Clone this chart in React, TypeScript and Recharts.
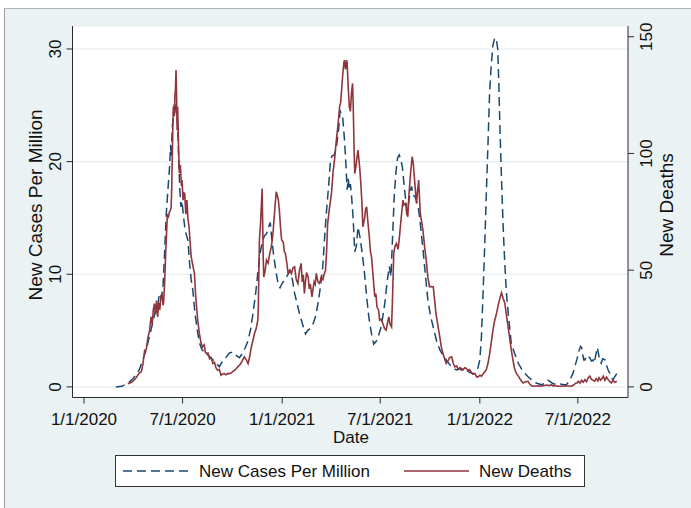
import React from 'react';
import { LineChart, Line, XAxis, YAxis, CartesianGrid, Label } from 'recharts';

const FONT = '"Liberation Sans", Arial, Helvetica, sans-serif';
const NAVY = '#1a476f';
const MAROON = '#90353b';
const BG = '#eaf2f3';
const AXIS = '#2b2b2b';
const FS = 17;
const TFS = 19;

// x positions are days since 1/1/2020
const xTickDays = [0, 182, 366, 547, 731, 912];
const xTickLabels = ['1/1/2020', '7/1/2020', '1/1/2021', '7/1/2021', '1/1/2022', '7/1/2022'];
const leftTicks = [0, 10, 20, 30];
const rightTicks = [0, 50, 100, 150];

const caseDays = [59, 70, 80, 90, 102, 110, 115, 121, 127, 133, 137, 139, 143, 146, 149, 152, 155, 158, 160, 161, 163, 167, 170, 173, 175, 177, 179, 181, 183, 186, 189, 192, 195, 198, 201, 205, 210, 214, 218, 224, 232, 238, 244, 250, 256, 262, 268, 275, 281, 287, 293, 298, 303, 308, 312, 317, 321, 325, 329, 333, 337, 341, 344, 347, 350, 355, 359, 362, 366, 372, 378, 381, 385, 389, 394, 398, 404, 409, 413, 418, 423, 428, 432, 437, 441, 444, 447, 452, 455, 458, 462, 466, 470, 473, 475, 478, 481, 484, 486, 488, 490, 492, 494, 497, 500, 503, 506, 510, 514, 518, 522, 526, 531, 535, 539, 543, 548, 552, 556, 560, 564, 567, 570, 573, 576, 579, 582, 585, 588, 591, 594, 597, 600, 603, 605, 608, 611, 614, 617, 620, 623, 626, 629, 632, 635, 640, 645, 651, 657, 663, 669, 675, 681, 688, 694, 700, 706, 712, 717, 722, 727, 731, 734, 737, 740, 743, 746, 749, 752, 755, 758, 760, 762, 764, 766, 768, 771, 774, 777, 780, 784, 789, 795, 802, 808, 814, 820, 826, 832, 838, 845, 851, 857, 860, 866, 873, 880, 886, 891, 896, 900, 903, 907, 910, 914, 917, 919, 921, 923, 925, 928, 931, 934, 937, 940, 942, 945, 948, 951, 953, 955, 958, 962, 965, 968, 971, 974, 977, 980, 984];
const caseValues = [0, 0.05, 0.3, 0.7, 1.5, 2.6, 3.3, 4.5, 5.7, 7.0, 7.4, 8.3, 7.9, 9.0, 12, 15.4, 17.5, 19.5, 21.5, 20.5, 23, 25.3, 24.5, 23.4, 20, 17.5, 16, 16.5, 15.5, 14.2, 13.5, 13, 11, 9.5, 8.6, 6.5, 4.8, 3.8, 3.3, 3.0, 2.7, 2.4, 2.1, 1.8, 2.3, 2.6, 3.0, 3.1, 2.8, 2.6, 3.0, 3.5, 4.1, 5.2, 6.5, 8.3, 10.1, 11.8, 12.8, 13.4, 13.6, 14.2, 14.6, 13.0, 11.8, 10.1, 9.0, 8.8, 9.2, 9.6, 10.1, 10.3, 9.5, 8.3, 7.3, 6.5, 5.5, 4.7, 5.0, 5.2, 5.6, 6.3, 7.4, 9.0, 10.7, 13, 15.1, 18, 20, 20.5, 20.6, 21.2, 22.8, 24.5, 24.3, 23.8, 22.0, 19.5, 17.5, 18.5, 17.5, 18.0, 17.0, 15.0, 12.0, 12.5, 14.2, 13.2, 11.8, 10.1, 8.0, 6.2, 4.7, 3.8, 4.0, 4.4, 5.2, 6.3, 7.6, 9.4, 10.7, 9.8, 13.5, 17, 19.0, 20.3, 20.6, 20.2, 19.5, 18.0, 16.6, 15.6, 16.5, 17.5, 17.8, 17.0, 16.9, 16.5, 16.0, 15, 13.6, 12.2, 10.7, 9.2, 7.7, 6.3, 5.3, 4.1, 3.3, 2.8, 2.4, 2.0, 1.7, 1.5, 1.6, 1.4, 1.5, 1.3, 1.2, 1.2, 1.6, 2.4, 4.5, 8.4, 12.5, 17.2, 21.5, 26.1, 28.5, 30.3, 30.9, 31.0, 30.7, 30.0, 27, 23.2, 18.5, 14.3, 11, 8.4, 6.2, 3.9, 3.0, 2.1, 1.6, 1.2, 0.9, 0.65, 0.4, 0.3, 0.2, 0.3, 0.6, 0.5, 0.3, 0.2, 0.25, 0.2, 0.2, 0.5, 0.9, 1.2, 1.9, 2.4, 3.2, 3.6, 3.5, 2.9, 2.4, 2.4, 2.8, 2.7, 2.6, 2.3, 2.4, 2.1, 2.8, 3.5, 2.7, 2.3, 2.1, 2.5, 2.4, 1.9, 1.5, 1.2, 0.8, 0.65, 0.9, 1.2];

const deathDays = [81, 88, 95, 102, 106, 109, 112, 115, 118, 121, 124, 126, 128, 130, 132, 134, 136, 138, 140, 142, 144, 146, 147, 149, 151, 152, 154, 156, 158, 160, 161, 162, 164, 165, 167, 168, 169, 170, 171, 172, 173, 175, 176, 178, 180, 181, 183, 185, 186, 188, 190, 192, 194, 196, 198, 201, 204, 206, 208, 210, 213, 216, 219, 222, 224, 226, 229, 232, 235, 238, 241, 244, 247, 250, 253, 256, 259, 262, 266, 269, 272, 276, 280, 284, 288, 292, 296, 300, 303, 306, 309, 312, 315, 318, 321, 322, 323, 324, 326, 328, 329, 330, 331, 332, 334, 337, 340, 343, 346, 349, 351, 353, 355, 357, 359, 361, 363, 365, 368, 370, 372, 374, 377, 380, 383, 386, 389, 392, 395, 398, 401, 403, 405, 407, 409, 411, 414, 416, 418, 421, 423, 425, 427, 429, 432, 435, 438, 441, 444, 446, 448, 450, 453, 457, 460, 463, 466, 469, 472, 474, 476, 478, 480, 481, 483, 485, 486, 488, 490, 492, 494, 496, 497, 499, 500, 502, 504, 506, 509, 511, 513, 515, 518, 520, 522, 524, 527, 529, 531, 534, 537, 539, 541, 544, 546, 549, 552, 555, 558, 561, 563, 565, 568, 570, 572, 574, 577, 580, 582, 584, 586, 589, 591, 594, 596, 598, 600, 603, 606, 608, 610, 611, 614, 616, 618, 621, 624, 626, 629, 632, 635, 638, 641, 645, 648, 650, 653, 656, 660, 663, 666, 669, 672, 675, 679, 682, 685, 688, 691, 694, 697, 700, 703, 706, 709, 712, 715, 718, 722, 725, 728, 731, 734, 737, 740, 743, 746, 749, 752, 755, 758, 762, 765, 768, 771, 774, 777, 780, 783, 786, 789, 792, 795, 798, 802, 805, 808, 811, 815, 820, 823, 826, 829, 835, 840, 845, 850, 855, 860, 863, 866, 870, 875, 882, 888, 894, 900, 904, 908, 911, 913, 916, 919, 922, 925, 928, 931, 934, 937, 940, 943, 946, 949, 951, 954, 957, 959, 962, 965, 968, 971, 974, 977, 980, 984];
const deathValues = [1.4, 2.0, 3.5, 5.9, 6.5, 10, 15.7, 16, 21, 24, 30, 27, 33, 35.7, 31, 37, 30, 36, 33, 38.6, 40, 35, 36, 45, 58, 63, 74, 73, 75, 76, 77, 85, 110, 120, 116, 125, 128, 135.7, 125, 110, 120, 100, 91.6, 95, 86, 88.6, 80, 83, 82.9, 74, 80, 72, 68.6, 62, 55.7, 52, 48.6, 40, 34, 28.6, 23, 19, 17.1, 18, 15, 14.3, 14.5, 12, 12.5, 10, 10.5, 8, 7.1, 7.5, 5, 5.5, 5.7, 5.2, 5.8, 5.7, 6, 6.8, 7.5, 8.6, 9.5, 11, 12.9, 11.5, 10, 13, 17, 20, 23, 25, 28.6, 35, 50, 62.9, 70, 80, 85, 70, 55, 47.1, 49, 54.3, 53, 57.1, 60, 65.7, 72, 78, 83.6, 82, 80, 75, 68, 62.9, 62, 58, 57.1, 54, 48.6, 50, 48.6, 51, 51.4, 46, 44.3, 50, 52.9, 45, 48, 40, 45, 49, 47.1, 42, 44, 38.6, 42, 45, 44, 48.6, 45, 44.3, 47, 46, 48.6, 50, 58, 70, 76, 82.9, 92, 98, 105.7, 112, 120, 122, 128, 134.3, 139, 140, 136, 140, 138.6, 128, 120, 118, 126, 130, 122, 100, 91.4, 94, 98, 101.4, 94.3, 88, 80, 68.6, 72, 76, 77.1, 71.4, 64, 58, 55.7, 47, 38.6, 40, 34.3, 33, 28.6, 29, 27.1, 25, 24.3, 28, 30, 27, 25.7, 40, 57.1, 60, 61.4, 59, 62.9, 68, 72.9, 80, 78, 78.6, 74, 72.9, 82, 91.4, 98.6, 96, 90, 87.1, 78.6, 84, 88.6, 74.3, 70, 67.1, 60, 54.3, 47, 42.9, 43, 42.9, 36, 31.4, 27, 22.9, 17, 14.3, 12, 10, 11, 12.5, 12.9, 10, 8.6, 9, 7.5, 8.2, 7.9, 7.3, 8.2, 7.9, 7.0, 7.4, 6.4, 5.5, 5.7, 4.3, 4.3, 5.0, 4.6, 5.5, 6.5, 7.4, 10, 14, 18.9, 24, 28, 31.7, 35, 38, 40.3, 38, 36, 31, 26, 21, 16, 11.7, 8, 6, 4.6, 3.5, 2.5, 1.7, 2.2, 2.4, 1.2, 0.6, 0.3, 0.4, 0.5, 0.3, 0.6, 0.8, 0.5, 1.0, 0.4, 0.6, 0.3, 0.3, 0.5, 0.4, 0.3, 0.8, 1.6, 1.8, 2.4, 1.6, 2.8, 2.0, 3.1, 2.2, 3.8, 4.6, 3.3, 2.8, 2.4, 3.5, 2.6, 3.9, 2.9, 3.7, 4.6, 2.8, 4.2, 3.1, 2.2, 1.7, 2.9, 2.0, 2.4];

const caseData = caseDays.map((d, i) => ({ day: d, cases: caseValues[i] }));
const deathData = deathDays.map((d, i) => ({ day: d, deaths: deathValues[i] }));

const XTick = (props: any) => {
  const { x, y, payload } = props;
  const idx = xTickDays.indexOf(payload.value);
  return (
    <text x={x} y={y + 19} textAnchor="middle" fontFamily={FONT} fontSize={FS} fill="#111">
      {idx >= 0 ? xTickLabels[idx] : ''}
    </text>
  );
};

const LeftTick = (props: any) => {
  const { x, y, payload } = props;
  const bx = x - 3.5;
  return (
    <text transform={`translate(${bx},${y}) rotate(-90)`} textAnchor="middle" fontFamily={FONT} fontSize={FS} fill="#111">
      {payload.value}
    </text>
  );
};

const RightTick = (props: any) => {
  const { x, y, payload } = props;
  const bx = x + 15.5;
  return (
    <text transform={`translate(${bx},${y}) rotate(-90)`} textAnchor="middle" fontFamily={FONT} fontSize={FS} fill="#111">
      {payload.value}
    </text>
  );
};

export default function App() {
  return (
    <div style={{ position: 'absolute', left: 0, top: 0, width: 691, height: 508, overflow: 'hidden', background: '#fff' }}>
      <div
        style={{
          position: 'absolute',
          left: 4,
          top: 8,
          width: 720,
          height: 540,
          background: BG,
          borderLeft: '1px solid #9c9c9c',
          borderTop: '1px solid #b4b4b4',
        }}
      />
      <div style={{ position: 'absolute', left: 0, top: 0 }}>
        <LineChart width={691} height={508} margin={{ top: 26, right: 10, bottom: 70.5, left: 10 }}>
          <CartesianGrid yAxisId="left" vertical={false} horizontal={true} stroke="#e3ecec" strokeWidth={1.2} fill="#ffffff" fillOpacity={1} />
          <XAxis
            dataKey="day"
            type="number"
            domain={[-21.2, 1004.6]}
            allowDataOverflow
            ticks={xTickDays}
            tick={<XTick />}
            tickSize={6}
            height={40}
            axisLine={{ stroke: AXIS }}
            tickLine={{ stroke: AXIS }}
            interval={0}
          >
            <Label
              content={() => (
                <text x={351} y={443} textAnchor="middle" fontFamily={FONT} fontSize={FS} fill="#111">
                  Date
                </text>
              )}
            />
          </XAxis>
          <YAxis
            yAxisId="left"
            orientation="left"
            width={62.5}
            type="number"
            domain={[-0.94, 32.04]}
            allowDataOverflow
            ticks={leftTicks}
            tick={<LeftTick />}
            tickSize={6}
            axisLine={{ stroke: AXIS }}
            tickLine={{ stroke: AXIS }}
            interval={0}
          >
            <Label
              content={() => (
                <text transform="translate(42,205) rotate(-90)" textAnchor="middle" fontFamily={FONT} fontSize={TFS} fill="#111">
                  New Cases Per Million
                </text>
              )}
            />
          </YAxis>
          <YAxis
            yAxisId="right"
            orientation="right"
            width={53}
            type="number"
            domain={[-4.54, 154.6]}
            allowDataOverflow
            ticks={rightTicks}
            tick={<RightTick />}
            tickSize={6}
            axisLine={{ stroke: AXIS }}
            tickLine={{ stroke: AXIS }}
            interval={0}
          >
            <Label
              content={() => (
                <text transform="translate(672.5,205) rotate(-90)" textAnchor="middle" fontFamily={FONT} fontSize={TFS} fill="#111">
                  New Deaths
                </text>
              )}
            />
          </YAxis>
          <Line
            yAxisId="left"
            data={caseData}
            dataKey="cases"
            type="linear"
            stroke={NAVY}
            strokeWidth={1.5}
            strokeDasharray="9 5"
            dot={false}
            activeDot={false}
            isAnimationActive={false}
          />
          <Line
            yAxisId="right"
            data={deathData}
            dataKey="deaths"
            type="linear"
            stroke={MAROON}
            strokeWidth={1.6}
            dot={false}
            activeDot={false}
            isAnimationActive={false}
          />
        </LineChart>
      </div>
      <div
        style={{
          position: 'absolute',
          left: 115,
          top: 455,
          width: 470,
          height: 32,
          boxSizing: 'border-box',
          background: '#fff',
          border: '1px solid #333',
        }}
      >
        <svg width={468} height={30} style={{ position: 'absolute', left: 0, top: 0 }}>
          <line x1={7} y1={15} x2={73} y2={15} stroke={NAVY} strokeWidth={1.5} strokeDasharray="9 5" />
          <text x={83} y={21} fontFamily={FONT} fontSize={FS} fill="#111">New Cases Per Million</text>
          <line x1={288} y1={15} x2={353} y2={15} stroke={MAROON} strokeWidth={1.6} />
          <text x={363} y={21} fontFamily={FONT} fontSize={FS} fill="#111">New Deaths</text>
        </svg>
      </div>
    </div>
  );
}
